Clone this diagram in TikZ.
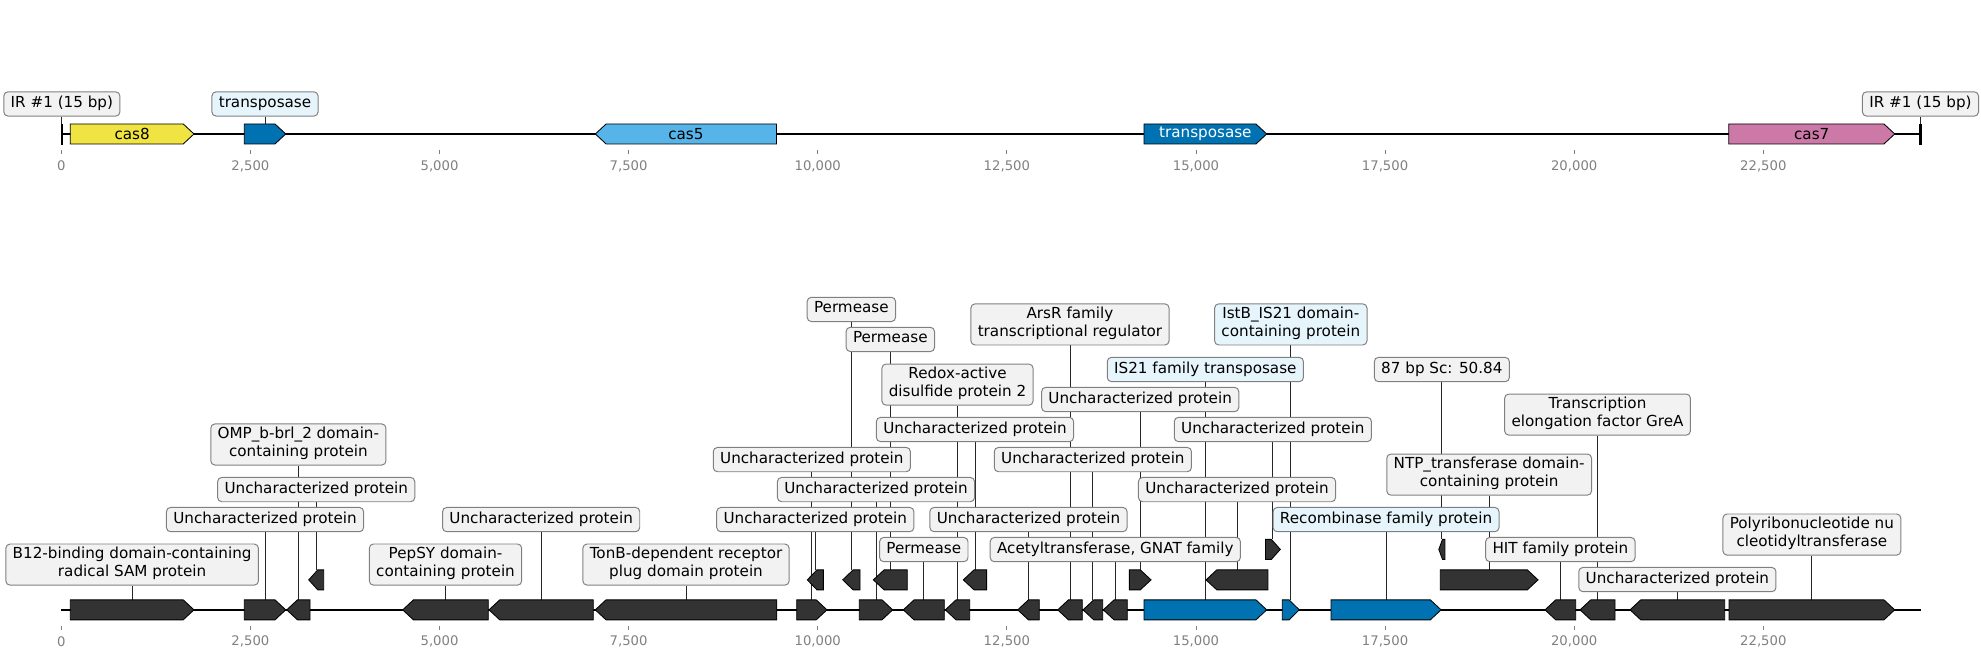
\documentclass[tikz,border=0pt]{standalone}
\usepackage{fontspec}
\setmainfont{DejaVu Sans}
\usepackage{tikz}
\usetikzlibrary{backgrounds}
\definecolor{casyellow}{HTML}{F0E442}
\definecolor{casskyblue}{HTML}{56B4E9}
\definecolor{tnpblue}{HTML}{0072B2}
\definecolor{caspink}{HTML}{CC79A7}
\definecolor{genedark}{HTML}{333333}
\definecolor{boxgray}{HTML}{F2F2F2}
\definecolor{boxblue}{HTML}{E6F5FC}
\definecolor{boxedge}{HTML}{808080}
\definecolor{axisgray}{HTML}{808080}

% name, start (kb), end (kb), track y, strand (1/-1), fill
\newcommand{\genearrow}[6]{%
  \pgfmathsetmacro{\hl}{min(0.142,0.6*(#3-#2))}%
  \ifnum#5>0
    \draw[gene, fill=#6] (#2,#4-10) -- ({#3-\hl},#4-10) -- (#3,#4) -- ({#3-\hl},#4+10) -- (#2,#4+10) -- cycle;
  \else
    \draw[gene, fill=#6] (#3,#4-10) -- ({#2+\hl},#4-10) -- (#2,#4) -- ({#2+\hl},#4+10) -- (#3,#4+10) -- cycle;
  \fi
  \coordinate (#1) at ({(#2+#3)/2},#4-10);
  \coordinate (#1m) at ({(#2+#3)/2},#4);
}

\begin{document}
\begin{tikzpicture}[
    x=1.8911cm, y=-0.025cm,
    track/.style={line width=1.4pt},
    gene/.style={draw=black, line width=0.6pt},
    lbl/.style={draw=boxedge, fill=boxgray, line width=0.7pt, rounded corners=3pt,
      align=center, inner xsep=4.9pt, inner ysep=2.34pt, minimum height=17.3pt,
      font=\fontsize{10.8}{12.6}\selectfont,
      execute at begin node=\strut, execute at end node=\strut},
    islbl/.style={lbl, fill=boxblue},
    leader/.style={draw=black!85, line width=0.55pt},
    tickmark/.style={draw=axisgray, line width=0.6pt},
    ticklbl/.style={text=axisgray, inner sep=0pt, font=\fontsize{9.4}{11}\selectfont},
    genetxt/.style={inner sep=0pt, font=\fontsize{10.8}{12.6}\selectfont}
  ]
  \useasboundingbox (-0.8104,0) rectangle (25.378,659);

  % upper map
  \draw[track] (0,134) -- (24.585,134);
  \draw[gene, fill=black] (0,124) rectangle (0.015,144);
  \coordinate (irL) at (0.0075,124);
  \draw[gene, fill=black] (24.57,124) rectangle (24.585,144);
  \coordinate (irR) at (24.5775,124);
  \genearrow{cas8}{0.119}{1.754}{134}{1}{casyellow}
  \genearrow{tnptop}{2.419}{2.967}{134}{1}{tnpblue}
  \genearrow{cas5}{7.06}{9.455}{134}{-1}{casskyblue}
  \genearrow{tnpbig}{14.313}{15.935}{134}{1}{tnpblue}
  \genearrow{cas7}{22.043}{24.237}{134}{1}{caspink}
  \node[genetxt] (tcas8) at (cas8m) {cas8};
  \node[genetxt] (tcas5) at (cas5m) {cas5};
  \node[genetxt, text=white] (ttnp) at (tnpbigm) {transposase};
  \node[genetxt] (tcas7) at (cas7m) {cas7};
  \node[lbl] (lira) at (irL |- 0,104) {IR \#1 (15 bp)};
  \node[islbl] (ltnp) at (tnptop |- 0,104) {transposase};
  \node[lbl] (lirb) at (irR |- 0,104) {IR \#1 (15 bp)};
  \foreach \t [count=\i] in {0,{2,500},{5,000},{7,500},{10,000},{12,500},{15,000},{17,500},{20,000},{22,500}} {
    \draw[tickmark] ({(\i-1)*2.5},149.7) -- ({(\i-1)*2.5},154.2);
    \node[ticklbl] (ta\i) at ({(\i-1)*2.5},166) {\t};
  }

  % lower map
  \draw[track] (0,610) -- (24.585,610);
  \genearrow{b12}{0.119}{1.754}{610}{1}{genedark}
  \genearrow{u1}{2.419}{2.967}{610}{1}{genedark}
  \genearrow{omp}{2.980}{3.288}{610}{-1}{genedark}
  \genearrow{u2}{3.271}{3.469}{580}{-1}{genedark}
  \genearrow{pepsy}{4.513}{5.645}{610}{-1}{genedark}
  \genearrow{u3}{5.654}{7.033}{610}{-1}{genedark}
  \genearrow{tonb}{7.059}{9.458}{610}{-1}{genedark}
  \genearrow{u4}{9.722}{10.122}{610}{1}{genedark}
  \genearrow{u5}{9.862}{10.074}{580}{-1}{genedark}
  \genearrow{perma}{10.330}{10.559}{580}{-1}{genedark}
  \genearrow{u6}{10.549}{10.991}{610}{1}{genedark}
  \genearrow{permb}{10.735}{11.184}{580}{-1}{genedark}
  \genearrow{permc}{11.131}{11.673}{610}{-1}{genedark}
  \genearrow{redox}{11.686}{12.009}{610}{-1}{genedark}
  \genearrow{u7}{11.924}{12.233}{580}{-1}{genedark}
  \genearrow{u8}{12.643}{12.929}{610}{-1}{genedark}
  \genearrow{arsr}{13.172}{13.497}{610}{-1}{genedark}
  \genearrow{u9}{13.507}{13.767}{610}{-1}{genedark}
  \genearrow{gnat}{13.775}{14.092}{610}{-1}{genedark}
  \genearrow{u10}{14.119}{14.406}{580}{1}{genedark}
  \genearrow{istf}{14.313}{15.935}{610}{1}{tnpblue}
  \genearrow{u11}{15.133}{15.952}{580}{-1}{genedark}
  \genearrow{u12}{15.918}{16.115}{549.5}{1}{genedark}
  \genearrow{istb}{16.141}{16.366}{610}{1}{tnpblue}
  \genearrow{recomb}{16.785}{18.240}{610}{1}{tnpblue}
  \genearrow{sc}{18.210}{18.291}{549.5}{-1}{genedark}
  \genearrow{ntp}{18.230}{19.522}{580}{1}{genedark}
  \genearrow{hit}{19.614}{20.020}{610}{-1}{genedark}
  \genearrow{grea}{20.077}{20.540}{610}{-1}{genedark}
  \genearrow{u13}{20.738}{21.990}{610}{-1}{genedark}
  \genearrow{pnp}{22.047}{24.237}{610}{1}{genedark}

  \node[lbl] (lb12) at (b12 |- 0,564.7) {B12-binding domain-containing\\radical SAM protein};
  \node[lbl] (lu1) at (u1 |- 0,519.7) {Uncharacterized protein};
  \node[lbl] (lu2) at (u2 |- 0,489.7) {Uncharacterized protein};
  \node[lbl] (lomp) at (omp |- 0,444.6) {OMP\_b-brl\_2 domain-\\containing protein};
  \node[lbl] (lpepsy) at (pepsy |- 0,564.7) {PepSY domain-\\containing protein};
  \node[lbl] (lu3) at (u3 |- 0,519.7) {Uncharacterized protein};
  \node[lbl] (ltonb) at (tonb |- 0,564.7) {TonB-dependent receptor\\plug domain protein};
  \node[lbl] (lperma) at (perma |- 0,309.5) {Permease};
  \node[lbl] (lpermb) at (permb |- 0,339.5) {Permease};
  \node[lbl] (larsr) at (arsr |- 0,324.5) {ArsR family\\transcriptional regulator};
  \node[islbl] (listb) at (istb |- 0,324.5) {IstB\_IS21 domain-\\containing protein};
  \node[lbl] (lredox) at (redox |- 0,384.7) {Redox-active\\disulfide protein 2};
  \node[islbl] (listf) at (istf |- 0,369.6) {IS21 family transposase};
  \node[lbl] (lu10) at (u10 |- 0,399.6) {Uncharacterized protein};
  \node[lbl] (lu7) at (u7 |- 0,429.6) {Uncharacterized protein};
  \node[lbl] (lu12) at (u12 |- 0,429.6) {Uncharacterized protein};
  \node[lbl] (lu4) at (u4 |- 0,459.7) {Uncharacterized protein};
  \node[lbl] (lu9) at (u9 |- 0,459.7) {Uncharacterized protein};
  \node[lbl] (lu6) at (u6 |- 0,489.7) {Uncharacterized protein};
  \node[lbl] (lu11) at (u11 |- 0,489.7) {Uncharacterized protein};
  \node[lbl] (lu5) at (u5 |- 0,519.7) {Uncharacterized protein};
  \node[lbl] (lu8) at (u8 |- 0,519.7) {Uncharacterized protein};
  \node[islbl] (lrecomb) at (recomb |- 0,519.7) {Recombinase family protein};
  \node[lbl] (lpermc) at (permc |- 0,549.7) {Permease};
  \node[lbl] (lgnat) at (gnat |- 0,549.7) {Acetyltransferase, GNAT family};
  \node[lbl] (lsc) at (sc |- 0,369.6) {87 bp Sc: 50.84};
  \node[lbl] (lgrea) at (grea |- 0,414.7) {Transcription\\elongation factor GreA};
  \node[lbl] (lntp) at (ntp |- 0,474.7) {NTP\_transferase domain-\\containing protein};
  \node[lbl] (lhit) at (hit |- 0,549.7) {HIT family protein};
  \node[lbl] (lu13) at (u13 |- 0,579.7) {Uncharacterized protein};
  \node[lbl] (lpnp) at (pnp |- 0,534.7) {Polyribonucleotide nu\\cleotidyltransferase};
  \foreach \t [count=\i] in {0,{2,500},{5,000},{7,500},{10,000},{12,500},{15,000},{17,500},{20,000},{22,500}} {
    \draw[tickmark] ({(\i-1)*2.5},625.7) -- ({(\i-1)*2.5},630.5);
    \node[ticklbl] (tb\i) at ({(\i-1)*2.5},641.7) {\t};
  }

  \begin{scope}[on background layer]
    \draw[leader] (lira.south) -- (irL);
    \draw[leader] (ltnp.south) -- (tnptop);
    \draw[leader] (lirb.south) -- (irR);
    \foreach \g in {b12,u1,u2,omp,pepsy,u3,tonb,perma,permb,arsr,istb,redox,istf,u10,u7,u12,u4,u9,u6,u11,u5,u8,recomb,permc,gnat,sc,grea,ntp,hit,u13,pnp}
      \draw[leader] (l\g.south) -- (\g);
  \end{scope}
\end{tikzpicture}
\end{document}
